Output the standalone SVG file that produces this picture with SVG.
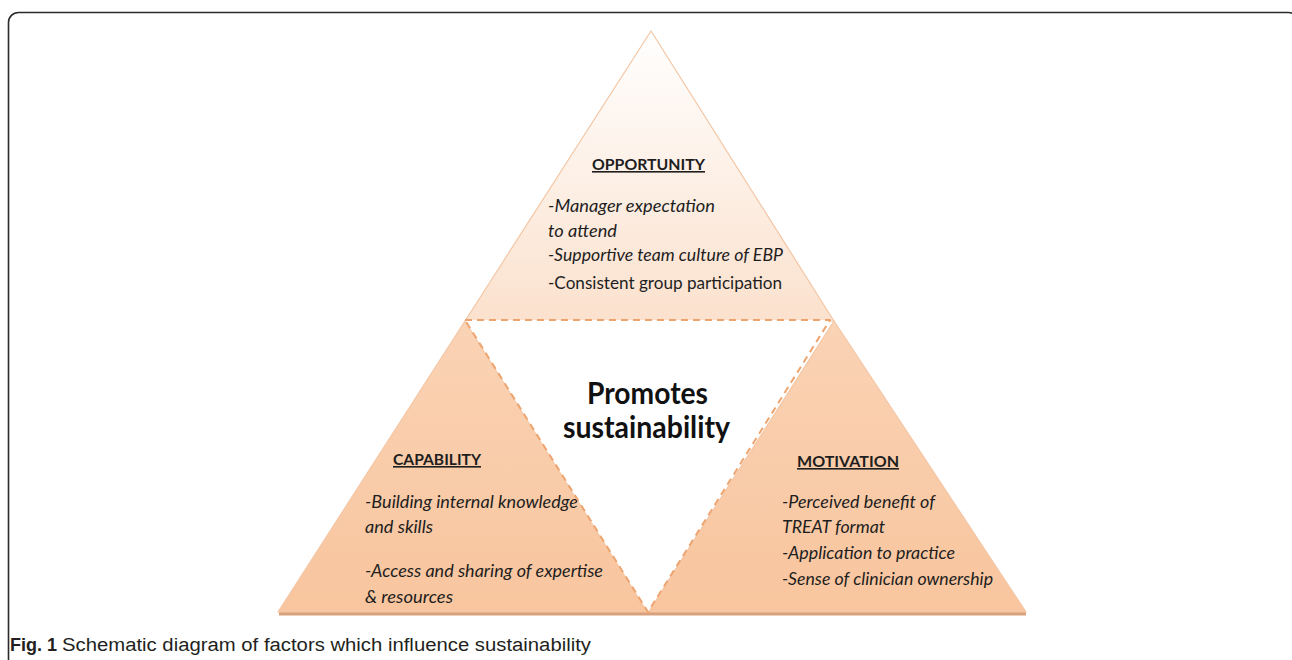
<svg xmlns="http://www.w3.org/2000/svg" width="1292" height="660" viewBox="0 0 1292 660">
<defs>
<linearGradient id="gTop" x1="0" y1="31" x2="0" y2="321" gradientUnits="userSpaceOnUse">
<stop offset="0" stop-color="#FFFFFF"/>
<stop offset="0.5" stop-color="#FDF0E6"/>
<stop offset="1" stop-color="#FBE1CD"/>
</linearGradient>
<linearGradient id="gBot" x1="0" y1="320" x2="0" y2="612" gradientUnits="userSpaceOnUse">
<stop offset="0" stop-color="#FAD3B5"/>
<stop offset="1" stop-color="#F8C59E"/>
</linearGradient>
<style>
.edge{stroke:#F3C6A5;stroke-width:1.2;stroke-linejoin:round}
.dash{fill:#FFFFFF;stroke:#EDA46F;stroke-width:2;stroke-dasharray:7 5;stroke-linejoin:round}
.hd{font-family:Lato,"Liberation Sans",sans-serif;font-weight:700;font-size:16px;fill:#1E1E1E;text-decoration:underline}
.it{font-family:Lato,"Liberation Sans",sans-serif;font-style:italic;font-size:17px;fill:#1E1E1E}
.rg{font-family:Lato,"Liberation Sans",sans-serif;font-size:17px;fill:#1E1E1E}
.big{font-family:Lato,"Liberation Sans",sans-serif;font-weight:700;font-size:30px;fill:#111111}
.cap{font-family:"Liberation Sans",Arial,sans-serif;font-size:18px;fill:#231F20}
</style>
</defs>
<rect x="0" y="0" width="1292" height="660" fill="#FFFFFF"/>
<rect x="8.5" y="12.5" width="1290" height="700" rx="10" ry="10" fill="none" stroke="#2B2B2B" stroke-width="1.6"/>

<rect x="279" y="611.5" width="747" height="4" fill="#D9A07C"/>

<g id="opportunity">
<polygon class="edge" points="651,31 465,321 834,321" fill="url(#gTop)"/>
<text class="hd" x="592" y="170" textLength="113" lengthAdjust="spacingAndGlyphs">OPPORTUNITY</text>
<text class="it" x="548" y="212" textLength="167" lengthAdjust="spacingAndGlyphs">-Manager expectation</text>
<text class="it" x="548" y="237" textLength="69" lengthAdjust="spacingAndGlyphs">to attend</text>
<text class="it" x="548" y="261" textLength="235" lengthAdjust="spacingAndGlyphs">-Supportive team culture of EBP</text>
<text class="rg" x="548" y="289" textLength="234" lengthAdjust="spacingAndGlyphs">-Consistent group participation</text>
</g>

<g id="capability">
<polygon class="edge" points="465,321 278,612 648,612" fill="url(#gBot)"/>
<text class="hd" x="393" y="465" textLength="88" lengthAdjust="spacingAndGlyphs">CAPABILITY</text>
<text class="it" x="365" y="508" textLength="213" lengthAdjust="spacingAndGlyphs">-Building internal knowledge</text>
<text class="it" x="365" y="533" textLength="68" lengthAdjust="spacingAndGlyphs">and skills</text>
<text class="it" x="365" y="577" textLength="238" lengthAdjust="spacingAndGlyphs">-Access and sharing of expertise</text>
<text class="it" x="365" y="603" textLength="88" lengthAdjust="spacingAndGlyphs">&amp; resources</text>
</g>

<g id="motivation">
<polygon class="edge" points="834,321 648,612 1026,612" fill="url(#gBot)"/>
<text class="hd" x="797" y="467" textLength="102" lengthAdjust="spacingAndGlyphs">MOTIVATION</text>
<text class="it" x="782" y="508" textLength="153" lengthAdjust="spacingAndGlyphs">-Perceived benefit of</text>
<text class="it" x="782" y="533" textLength="103" lengthAdjust="spacingAndGlyphs">TREAT format</text>
<text class="it" x="782" y="559" textLength="173" lengthAdjust="spacingAndGlyphs">-Application to practice</text>
<text class="it" x="782" y="585" textLength="211" lengthAdjust="spacingAndGlyphs">-Sense of clinician ownership</text>
</g>

<g id="center">
<polygon class="dash" points="465,320 830,320 648,612"/>
<text class="big" x="587" y="404" textLength="121" lengthAdjust="spacingAndGlyphs">Promotes</text>
<text class="big" x="563" y="438" textLength="167" lengthAdjust="spacingAndGlyphs">sustainability</text>
</g>

<g id="caption">
<text class="cap" x="10" y="651"><tspan font-weight="700">Fig. 1</tspan><tspan x="62" textLength="529" lengthAdjust="spacingAndGlyphs">Schematic diagram of factors which influence sustainability</tspan></text>
</g>
</svg>
